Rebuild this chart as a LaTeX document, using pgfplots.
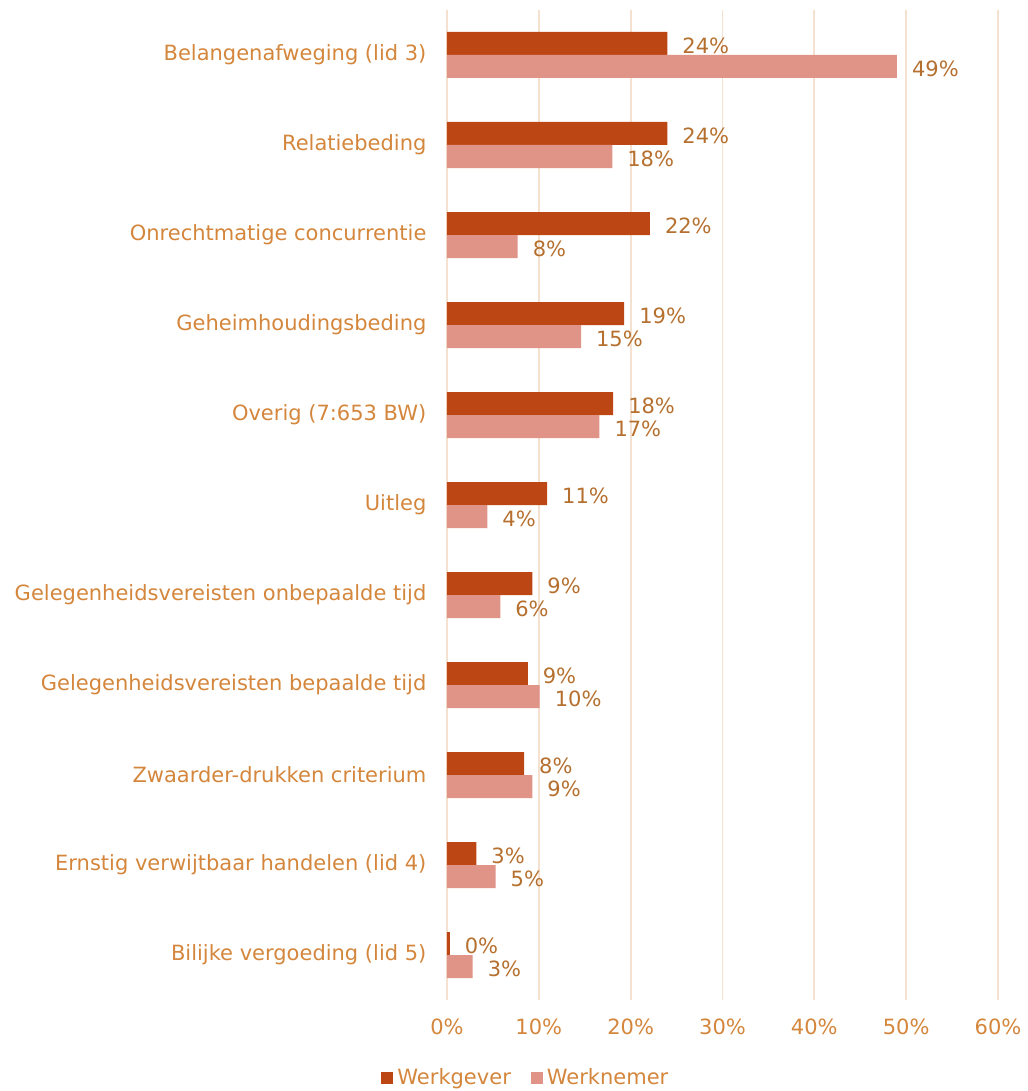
\documentclass[border=0pt]{standalone}
\usepackage{pgfplots}
\pgfplotsset{compat=1.18}
\usepackage{fontspec}
\setmainfont{DejaVu Sans}

\definecolor{gever}{HTML}{BC4614}
\definecolor{nemer}{HTML}{E09488}
\definecolor{cattext}{HTML}{D4863C}
\definecolor{valtext}{HTML}{B5702F}
\definecolor{gridc}{HTML}{F5E1D0}

\begin{document}
\begin{tikzpicture}
\useasboundingbox (-223.5pt,-45.5pt) rectangle (290pt,500pt);
\begin{axis}[
    scale only axis,
    width=275.5pt,
    height=495pt,
    xbar=0pt,
    bar width=11.5pt,
    y dir=reverse,
    xmin=0, xmax=60,
    ymin=-0.5, ymax=10.5,
    xtick={0,10,...,60},
    xticklabel={\pgfmathprintnumber{\tick}\%},
    ytick={0,...,10},
    yticklabels={
        Belangenafweging (lid 3),
        Relatiebeding,
        Onrechtmatige concurrentie,
        Geheimhoudingsbeding,
        Overig (7:653 BW),
        Uitleg,
        Gelegenheidsvereisten onbepaalde tijd,
        Gelegenheidsvereisten bepaalde tijd,
        Zwaarder-drukken criterium,
        Ernstig verwijtbaar handelen (lid 4),
        Bilijke vergoeding (lid 5)},
    /pgf/number format/assume math mode=true,
    font=\fontsize{10.5pt}{12pt}\selectfont,
    ticklabel style={text=cattext},
    ytick style={draw=none},
    xtick style={draw=none},
    y tick label style={xshift=-2.5pt},
    x tick label style={yshift=-6pt},
    axis line style={draw=none},
    xmajorgrids,
    major grid style={gridc, line width=0.9pt},
    nodes near coords={\pgfplotspointmeta\%},
    point meta=explicit symbolic,
    nodes near coords style={text=valtext, anchor=west, xshift=4pt, yshift=-1pt,
        font=\fontsize{10.5pt}{12pt}\selectfont},
    legend style={at={(0.145,-0.0788)}, anchor=center, draw=none,
        legend columns=2, font=\fontsize{10.5pt}{12pt}\selectfont, text=cattext,
        /tikz/every even column/.append style={column sep=8pt},
        inner sep=0pt},
    legend image code/.code={\fill[#1] (0pt,-3pt) rectangle (6pt,3pt);},
]
\addplot[draw=none, fill=gever, bar shift=5.75pt] coordinates {
    (24.0,0) [24] (24.0,1) [24] (22.1,2) [22] (19.3,3) [19] (18.1,4) [18]
    (10.9,5) [11] (9.3,6) [9] (8.8,7) [9] (8.4,8) [8] (3.2,9) [3] (0.3,10) [0]};
\addplot[draw=none, fill=nemer, bar shift=-5.75pt] coordinates {
    (49.0,0) [49] (18.0,1) [18] (7.7,2) [8] (14.6,3) [15] (16.6,4) [17]
    (4.4,5) [4] (5.8,6) [6] (10.1,7) [10] (9.3,8) [9] (5.3,9) [5] (2.8,10) [3]};
\legend{Werkgever, Werknemer}
\end{axis}
\end{tikzpicture}
\end{document}
